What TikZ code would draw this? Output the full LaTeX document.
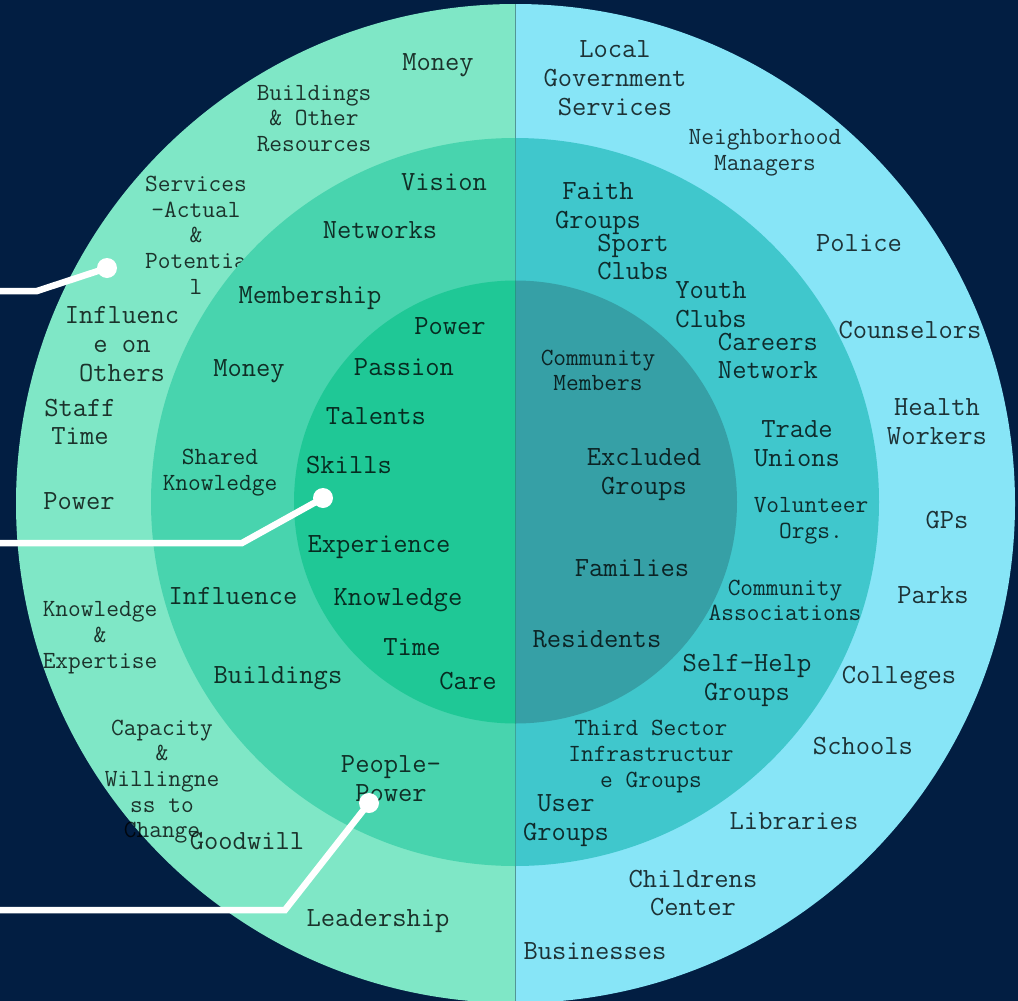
\documentclass[tikz,border=0pt]{standalone}
\usepackage{fontspec}
\definecolor{bgnavy}{HTML}{021E42}
\definecolor{lo}{HTML}{7FE7C6}
\definecolor{lm}{HTML}{48D4AE}
\definecolor{li}{HTML}{1FC896}
\definecolor{ro}{HTML}{87E5F7}
\definecolor{rm}{HTML}{40C7CC}
\definecolor{ri}{HTML}{36A0A6}
\tikzset{
  base label/.style={align=center,inner sep=0pt,outer sep=0pt,text=black,text opacity=0.78,yshift=-2.6pt,
    execute at begin node={\rule{0pt}{0.62em}},execute at end node={\rule[-0.2em]{0pt}{0pt}}},
  big/.style={base label,font=\fontsize{27.75}{28.8}\selectfont\ttfamily},
  small/.style={base label,font=\fontsize{24.7}{25.6}\selectfont\ttfamily},
  leader/.style={draw=white,line width=6.5pt,line join=miter},
  dot/.style={circle,fill=white,minimum size=20pt,inner sep=0pt,outer sep=0pt},
}
\begin{document}
\begin{tikzpicture}[x=1pt,y=-1pt]
\useasboundingbox (0,0) rectangle (1018,1001);
\clip (0,0) rectangle (1018,1001);
\fill[bgnavy] (0,0) rectangle (1018,1001);
% outer ring
\begin{scope}\clip (0,0) rectangle (515.5,1001);\fill[lo] (515.5,503.5) circle (499.5);\end{scope}
\begin{scope}\clip (515.5,0) rectangle (1018,1001);\fill[ro] (515.5,503.5) circle (499.5);\end{scope}
\node[big] (o1) at (438,62) {Money};
\node[small] (o2) at (314,118) {Buildings\\\& Other\\Resources};
\node[small] (o3) at (196,235) {Services\\-Actual\\\&\\Potentia\\l};
\node[big] (o4) at (122,344) {Influenc\\e on\\Others};
\node[big] (o5) at (80,422) {Staff\\Time};
\node[big] (o6) at (79,501) {Power};
\node[small] (o7) at (100,635) {Knowledge\\\&\\Expertise};
\node[small] (o8) at (162,779) {Capacity\\\&\\Willingne\\ss to\\Change};
\node[big] (o9) at (247,841) {Goodwill};
\node[big] (o10) at (378,918) {Leadership};
\node[big] (p1) at (615,78) {Local\\Government\\Services};
\node[small] (p2) at (765,150) {Neighborhood\\Managers};
\node[big] (p3) at (859,243) {Police};
\node[big] (p4) at (910,330) {Counselors};
\node[big] (p5) at (937,422) {Health\\Workers};
\node[big] (p6) at (947,520) {GPs};
\node[big] (p7) at (933,595) {Parks};
\node[big] (p8) at (899,675) {Colleges};
\node[big] (p9) at (863,746) {Schools};
\node[big] (p10) at (794,821) {Libraries};
\node[big] (p11) at (693,893) {Childrens\\Center};
\node[big] (p12) at (595,951) {Businesses};
% middle ring
\begin{scope}\clip (0,0) rectangle (515.5,1001);\fill[lm] (515,502) circle (364);\end{scope}
\begin{scope}\clip (515.5,0) rectangle (1018,1001);\fill[rm] (515,502) circle (364);\end{scope}
\node[big] (m1) at (444,182) {Vision};
\node[big] (m2) at (380,230) {Networks};
\node[big] (m3) at (310,295) {Membership};
\node[big] (m4) at (249,368) {Money};
\node[small] (m5) at (220,470) {Shared\\Knowledge};
\node[big] (m6) at (233,596) {Influence};
\node[big] (m7) at (278,675) {Buildings};
\node[big] (m8) at (391,779) {People-\\Power};
\node[big] (n1) at (598,206) {Faith\\Groups};
\node[big] (n2) at (633,257) {Sport\\Clubs};
\node[big] (n3) at (711,305) {Youth\\Clubs};
\node[big] (n4) at (768,356) {Careers\\Network};
\node[big] (n5) at (797,444) {Trade\\Unions};
\node[small] (n6) at (811,518) {Volunteer\\Orgs.};
\node[small] (n7) at (785,600) {Community\\Associations};
\node[big] (n8) at (747,678) {Self-Help\\Groups};
\node[small] (n9) at (651,754) {Third Sector\\Infrastructur\\e Groups};
\node[big] (n10) at (566,818) {User\\Groups};
% inner ring
\begin{scope}\clip (0,0) rectangle (515.5,1001);\fill[li] (515.5,502) circle (221.5);\end{scope}
\begin{scope}\clip (515.5,0) rectangle (1018,1001);\fill[ri] (515.5,502) circle (221.5);\end{scope}
\node[big] (i1) at (450,326) {Power};
\node[big] (i2) at (404,367) {Passion};
\node[big] (i3) at (376,416) {Talents};
\node[big] (i4) at (349,465) {Skills};
\node[big] (i5) at (379,544) {Experience};
\node[big] (i6) at (398,597) {Knowledge};
\node[big] (i7) at (412,647) {Time};
\node[big] (i8) at (468,681) {Care};
\node[small] (j1) at (598,370) {Community\\Members};
\node[big] (j2) at (644,472) {Excluded\\Groups};
\node[big] (j3) at (632,568) {Families};
\node[big] (j4) at (597,639) {Residents};
% divider
\coordinate (dtop) at (515.5,4);
\coordinate (dbot) at (515.5,1001);
\draw[black,opacity=0.18,line width=1pt] (dtop) -- (dbot);
% leaders
\node[dot] (d1) at (107,268) {};
\node[dot] (d2) at (323,498) {};
\node[dot] (d3) at (369,803) {};
\coordinate (s1) at (0,291);\coordinate (b1) at (37,291);
\coordinate (s2) at (0,543);\coordinate (b2) at (242,543);
\coordinate (s3) at (0,910);\coordinate (b3) at (285,910);
\draw[leader] (s1) -- (b1) -- (d1.center);
\draw[leader] (s2) -- (b2) -- (d2.center);
\draw[leader] (s3) -- (b3) -- (d3.center);
\end{tikzpicture}
\end{document}
